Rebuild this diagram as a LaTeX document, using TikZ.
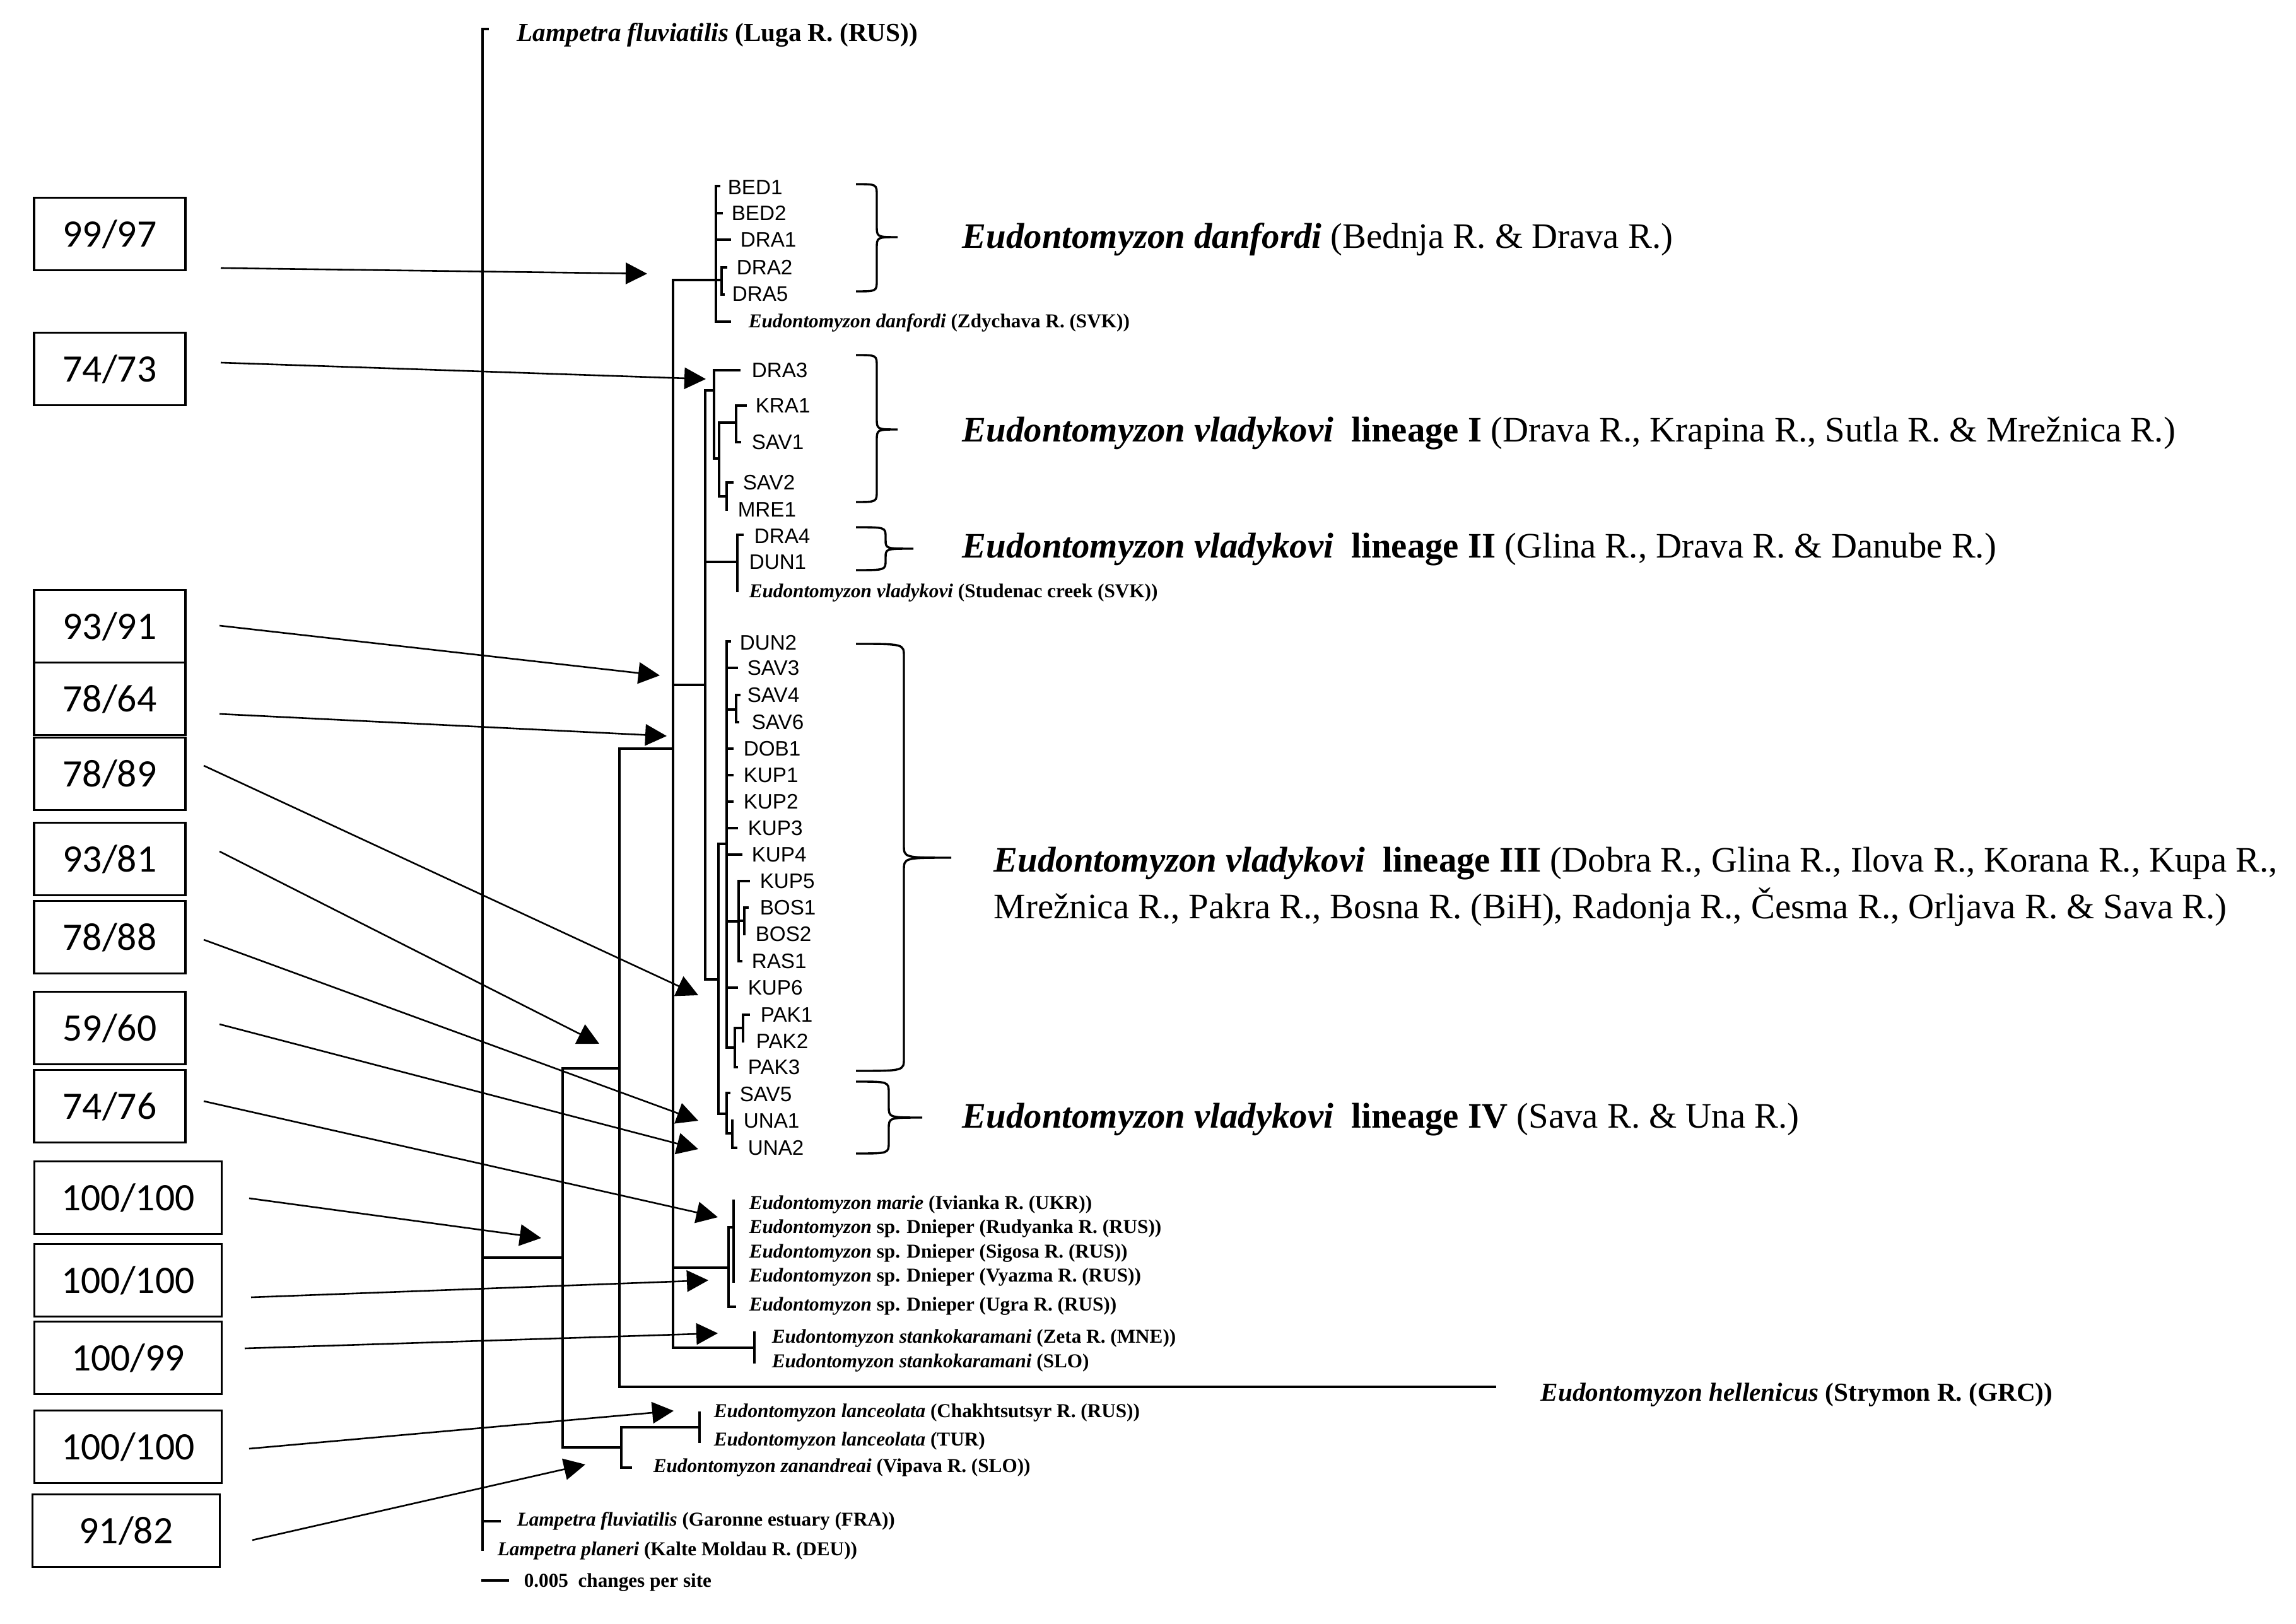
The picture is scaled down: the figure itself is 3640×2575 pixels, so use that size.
\documentclass[tikz,border=0pt]{standalone}
\usepackage{fontspec}
\setmainfont{Liberation Serif}
\newfontfamily\arialf{Liberation Sans}
\newfontfamily\calf{Carlito}
\usetikzlibrary{arrows.meta}
\begin{document}
\begin{tikzpicture}[x=0.25pt,y=-0.25pt,
  tr/.style={line width=0.95pt, line cap=rect, line join=miter},
  br/.style={line width=0.85pt},
  arr/.style={line width=0.65pt, -{Triangle[length=8.5pt,width=8.5pt]}},
  box/.style={draw, line width=0.8pt, inner sep=0pt, minimum height=28.75pt, font=\calf\fontsize{15.4}{18}\selectfont},
  sbox/.style={box, minimum width=60pt},
  wbox/.style={box, minimum width=74.25pt},
  code/.style={anchor=west, inner sep=0pt, font=\arialf\fontsize{8.3}{10}\selectfont},
  sp/.style={anchor=west, inner sep=0pt, font=\fontsize{7.8}{9}\selectfont\bfseries},
  spl/.style={anchor=west, inner sep=0pt, font=\fontsize{10.3}{12}\selectfont\bfseries},
  big/.style={anchor=west, inner sep=0pt, font=\fontsize{14.2}{17}\selectfont}]
\useasboundingbox[fill=white] (0,0) rectangle (3640,2575);

% ---------------- boxes ----------------
\node[sbox] (b1) at (174,371) {99/97};
\node[sbox] (b2) at (174,585) {74/73};
\node[sbox] (b3) at (174,993) {93/91};
\node[sbox] (b4) at (174,1108) {78/64};
\node[sbox] (b5) at (174,1227) {78/89};
\node[sbox] (b6) at (174,1362) {93/81};
\node[sbox] (b7) at (174,1486) {78/88};
\node[sbox] (b8) at (174,1630) {59/60};
\node[sbox] (b9) at (174,1754) {74/76};
\node[wbox] (b10) at (203,1899) {100/100};
\node[wbox] (b11) at (203,2030) {100/100};
\node[wbox] (b12) at (203,2153) {100/99};
\node[wbox] (b13) at (203,2294) {100/100};
\node[wbox] (b14) at (200,2427) {91/82};

% ---------------- arrows ----------------
\coordinate (s1) at (350,425);  \coordinate (e1) at (1026,434);
\coordinate (s2) at (350,575);  \coordinate (e2) at (1119,601);
\coordinate (s3) at (348,992);  \coordinate (e3) at (1046,1071);
\coordinate (s4) at (348,1132); \coordinate (e4) at (1057,1167);
\coordinate (s5) at (323,1214); \coordinate (e5) at (1107,1578);
\coordinate (s6) at (348,1350); \coordinate (e6) at (950,1655);
\coordinate (s7) at (323,1490); \coordinate (e7) at (1107,1777);
\coordinate (s8) at (348,1624); \coordinate (e8) at (1107,1822);
\coordinate (s9) at (323,1746); \coordinate (e9) at (1138,1930);
\coordinate (s10) at (395,1900); \coordinate (e10) at (858,1963);
\coordinate (s11) at (398,2057); \coordinate (e11) at (1123,2030);
\coordinate (s12) at (388,2138); \coordinate (e12) at (1138,2114);
\coordinate (s13) at (395,2297); \coordinate (e13) at (1068,2237);
\coordinate (s14) at (400,2442); \coordinate (e14) at (928,2322);
\foreach \i in {1,...,14} {\draw[arr] (s\i) -- (e\i);}

% ---------------- tree ----------------
% root
\draw[tr] (773,46) -- (765,46) -- (765,2457);
\draw[tr] (765,2412) -- (792,2412);
% N1
\draw[tr] (765,1994) -- (892,1994);
\draw[tr] (892,1694) -- (892,2295);
% N2 + hellenicus
\draw[tr] (892,1694) -- (982,1694);
\draw[tr] (982,1187) -- (982,2199) -- (2370,2199);
% lanceolata / zanandreai
\draw[tr] (892,2295) -- (985,2295);
\draw[tr] (1000,2327) -- (985,2327) -- (985,2263) -- (1109,2263);
\draw[tr] (1109,2240) -- (1109,2286);
% N3
\draw[tr] (982,1187) -- (1067,1187);
\draw[tr] (1067,444) -- (1067,2137) -- (1196,2137);
\draw[tr] (1196,2113) -- (1196,2160);
% marie group
\draw[tr] (1067,2010) -- (1155,2010);
\draw[tr] (1163,1946) -- (1155,1946) -- (1155,2072) -- (1165,2072);
\draw[tr] (1163,1904) -- (1163,2032);
% danfordi clade
\draw[tr] (1067,444) -- (1144,444);
\draw[tr] (1140,295) -- (1135,295) -- (1135,510) -- (1157,510);
\draw[tr] (1135,338) -- (1144,338);
\draw[tr] (1135,380) -- (1157,380);
\draw[tr] (1151,424) -- (1144,424) -- (1144,467) -- (1147,467);
% N4
\draw[tr] (1067,1086) -- (1118,1086);
\draw[tr] (1118,619) -- (1118,1553);
% lineage I
\draw[tr] (1118,619) -- (1132,619);
\draw[tr] (1172,587) -- (1132,587) -- (1132,727) -- (1140,727);
\draw[tr] (1140,670) -- (1140,787);
\draw[tr] (1140,670) -- (1167,670);
\draw[tr] (1182,643) -- (1167,643) -- (1167,701) -- (1173,701);
\draw[tr] (1140,787) -- (1152,787);
\draw[tr] (1161,765) -- (1152,765) -- (1152,808);
% lineage II
\draw[tr] (1118,891) -- (1169,891);
\draw[tr] (1177,848) -- (1169,848) -- (1169,937);
% N5
\draw[tr] (1118,1553) -- (1139,1553);
\draw[tr] (1139,1338) -- (1139,1766);
% lineage III
\draw[tr] (1139,1338) -- (1152,1338);
\draw[tr] (1157,1017) -- (1152,1017) -- (1152,1661);
\draw[tr] (1152,1059) -- (1168,1059);
\draw[tr] (1152,1125) -- (1167,1125);
\draw[tr] (1172,1102) -- (1167,1102) -- (1167,1145) -- (1170,1145);
\draw[tr] (1152,1187) -- (1161,1187);
\draw[tr] (1152,1229) -- (1161,1229);
\draw[tr] (1152,1271) -- (1161,1271);
\draw[tr] (1152,1313) -- (1168,1313);
\draw[tr] (1152,1355) -- (1175,1355);
\draw[tr] (1152,1461) -- (1171,1461);
\draw[tr] (1187,1397) -- (1171,1397) -- (1171,1524) -- (1175,1524);
\draw[tr] (1171,1460) -- (1180,1460);
\draw[tr] (1185,1439) -- (1180,1439) -- (1180,1481);
\draw[tr] (1152,1566) -- (1168,1566);
\draw[tr] (1152,1661) -- (1165,1661);
\draw[tr] (1165,1630) -- (1165,1692) -- (1168,1692);
\draw[tr] (1165,1630) -- (1178,1630);
\draw[tr] (1187,1609) -- (1178,1609) -- (1178,1651);
% lineage IV
\draw[tr] (1139,1766) -- (1152,1766);
\draw[tr] (1156,1733) -- (1152,1733) -- (1152,1797) -- (1161,1797);
\draw[tr] (1161,1777) -- (1161,1820) -- (1167,1820);
% scale bar
\draw[tr] (765,2506) -- (805,2506);

% ---------------- leaf labels ----------------
\node[spl] (luga) at (819,56) {\textit{Lampetra fluviatilis} (Luga R. (RUS))};
\node[code] (bed1) at (1153,297) {BED1};
\node[code] (bed2) at (1159,338) {BED2};
\node[code] (dra1) at (1173,380) {DRA1};
\node[code] (dra2) at (1167,424) {DRA2};
\node[code] (dra5) at (1160,466) {DRA5};
\node[sp] (zdy) at (1186,512) {\textit{Eudontomyzon danfordi} (Zdychava R. (SVK))};
\node[code] (dra3) at (1191,587) {DRA3};
\node[code] (kra1) at (1197,643) {KRA1};
\node[code] (sav1) at (1191,701) {SAV1};
\node[code] (sav2) at (1177,765) {SAV2};
\node[code] (mre1) at (1169,808) {MRE1};
\node[code] (dra4) at (1195,850) {DRA4};
\node[code] (dun1) at (1187,891) {DUN1};
\node[sp] (stud) at (1187,940) {\textit{Eudontomyzon vladykovi} (Studenac creek (SVK))};
\node[code] (dun2) at (1172,1019) {DUN2};
\node[code] (sav3) at (1184,1059) {SAV3};
\node[code] (sav4) at (1184,1102) {SAV4};
\node[code] (sav6) at (1191,1145) {SAV6};
\node[code] (dob1) at (1178,1187) {DOB1};
\node[code] (kup1) at (1178,1229) {KUP1};
\node[code] (kup2) at (1178,1271) {KUP2};
\node[code] (kup3) at (1185,1313) {KUP3};
\node[code] (kup4) at (1191,1355) {KUP4};
\node[code] (kup5) at (1204,1397) {KUP5};
\node[code] (bos1) at (1204,1439) {BOS1};
\node[code] (bos2) at (1197,1481) {BOS2};
\node[code] (ras1) at (1191,1524) {RAS1};
\node[code] (kup6) at (1185,1566) {KUP6};
\node[code] (pak1) at (1205,1609) {PAK1};
\node[code] (pak2) at (1198,1651) {PAK2};
\node[code] (pak3) at (1185,1692) {PAK3};
\node[code] (sav5) at (1172,1735) {SAV5};
\node[code] (una1) at (1178,1777) {UNA1};
\node[code] (una2) at (1185,1820) {UNA2};
\node[sp] (marie) at (1187,1910) {\textit{Eudontomyzon marie} (Ivianka R. (UKR))};
\node[sp] (rud) at (1187,1948) {\textit{Eudontomyzon} sp. Dnieper (Rudyanka R. (RUS))};
\node[sp] (sig) at (1187,1987) {\textit{Eudontomyzon} sp. Dnieper (Sigosa R. (RUS))};
\node[sp] (vya) at (1187,2025) {\textit{Eudontomyzon} sp. Dnieper (Vyazma R. (RUS))};
\node[sp] (ugra) at (1187,2071) {\textit{Eudontomyzon} sp. Dnieper (Ugra R. (RUS))};
\node[sp] (zeta) at (1223,2122) {\textit{Eudontomyzon stankokaramani} (Zeta R. (MNE))};
\node[sp] (slo) at (1223,2161) {\textit{Eudontomyzon stankokaramani} (SLO)};
\node[spl] (hell) at (2442,2212) {\textit{Eudontomyzon hellenicus} (Strymon R. (GRC))};
\node[sp] (chak) at (1131,2240) {\textit{Eudontomyzon lanceolata} (Chakhtsutsyr R. (RUS))};
\node[sp] (tur) at (1131,2285) {\textit{Eudontomyzon lanceolata} (TUR)};
\node[sp] (zan) at (1035,2327) {\textit{Eudontomyzon zanandreai} (Vipava R. (SLO))};
\node[sp] (gar) at (819,2412) {\textit{Lampetra fluviatilis} (Garonne estuary (FRA))};
\node[sp] (plan) at (788,2459) {\textit{Lampetra planeri} (Kalte Moldau R. (DEU))};
\node[sp] (scale) at (830,2509) {0.005\ \ changes per site};

% ---------------- braces ----------------
\draw[br] (1357,292) .. controls (1390,292) .. (1390,310) -- (1390,358) .. controls (1390,376) .. (1423,376) .. controls (1390,376) .. (1390,394) -- (1390,444) .. controls (1390,462) .. (1357,462);
\draw[br] (1357,563) .. controls (1390,563) .. (1390,581) -- (1390,663) .. controls (1390,681) .. (1423,681) .. controls (1390,681) .. (1390,699) -- (1390,778) .. controls (1390,796) .. (1357,796);
\draw[br] (1357,836) .. controls (1404,836) .. (1404,852) -- (1404,856) .. controls (1404,870) .. (1448,870) .. controls (1404,870) .. (1404,884) -- (1404,888) .. controls (1404,904) .. (1357,904);
\draw[br] (1357,1021) .. controls (1433,1021) .. (1433,1041) -- (1433,1340) .. controls (1433,1360) .. (1508,1360) .. controls (1433,1360) .. (1433,1380) -- (1433,1678) .. controls (1433,1698) .. (1357,1698);
\draw[br] (1357,1715) .. controls (1409,1715) .. (1409,1733) -- (1409,1754) .. controls (1409,1772) .. (1462,1772) .. controls (1409,1772) .. (1409,1790) -- (1409,1811) .. controls (1409,1829) .. (1357,1829);

% ---------------- clade labels ----------------
\node[big] (ldan) at (1525,380) {\textbf{\textit{Eudontomyzon danfordi}} (Bednja R. \& Drava R.)};
\node[big] (l1) at (1525,687) {\textbf{\textit{Eudontomyzon vladykovi}}\ \ \textbf{lineage I} (Drava R., Krapina R., Sutla R. \& Mrežnica R.)};
\node[big] (l2) at (1525,871) {\textbf{\textit{Eudontomyzon vladykovi}}\ \ \textbf{lineage II} (Glina R., Drava R. \& Danube R.)};
\node[big] (l3a) at (1575,1369) {\textbf{\textit{Eudontomyzon vladykovi}}\ \ \textbf{lineage III} (Dobra R., Glina R., Ilova R., Korana R., Kupa R.,};
\node[big] (l3b) at (1575,1438) {Mrežnica R., Pakra R., Bosna R. (BiH), Radonja R., Česma R., Orljava R. \& Sava R.)};
\node[big] (l4) at (1525,1775) {\textbf{\textit{Eudontomyzon vladykovi}}\ \ \textbf{lineage IV} (Sava R. \& Una R.)};
\end{tikzpicture}
\end{document}
